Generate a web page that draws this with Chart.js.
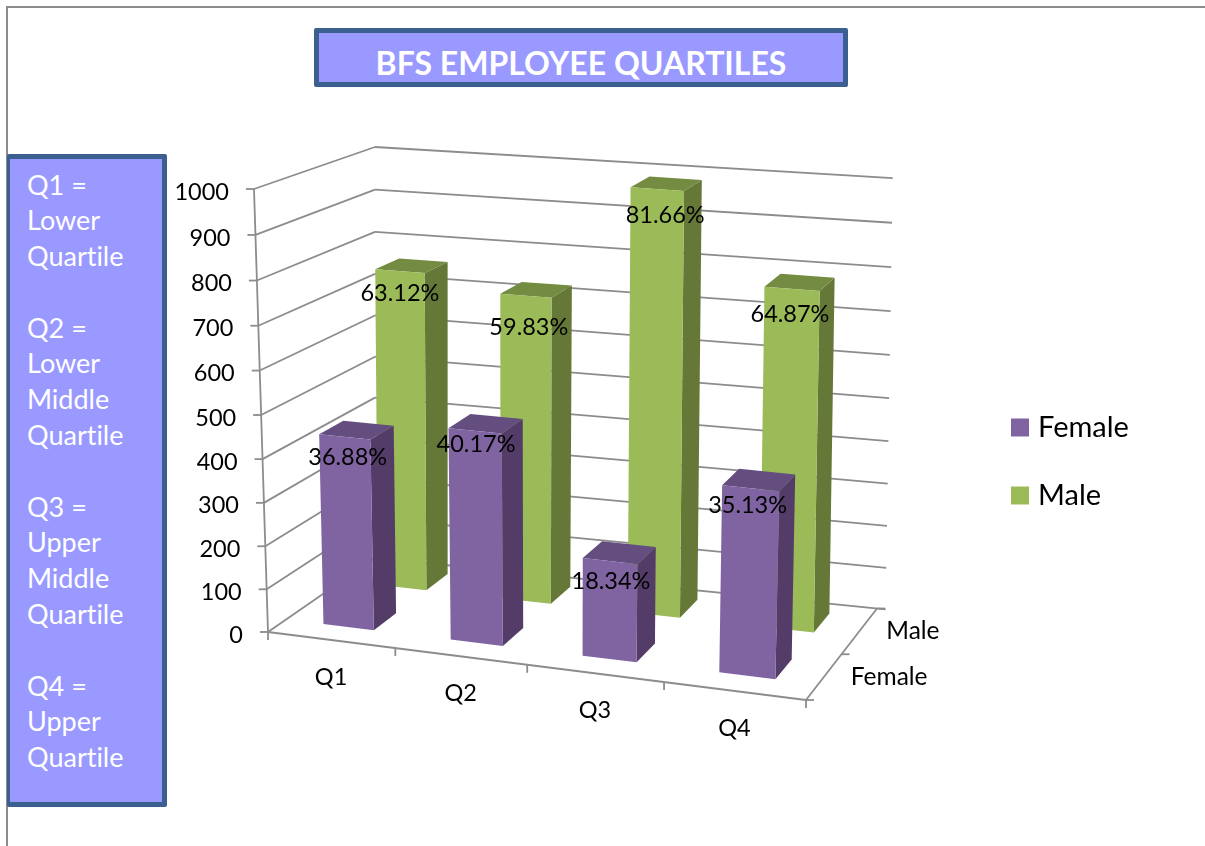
<!DOCTYPE html>
<html>
<head>
<meta charset="utf-8">
<title>BFS Employee Quartiles</title>
<script src="https://cdn.jsdelivr.net/npm/chart.js@4/dist/chart.umd.js"></script>
<style>
html, body { margin: 0; padding: 0; background: #fff; overflow: hidden; }
#page { position: relative; width: 1205px; height: 846px; font-family: Lato, sans-serif; font-variant-ligatures: none; }
#chart { position: absolute; left: 0; top: 0; }
#frameTop { position: absolute; left: 6px; top: 6px; width: 1199px; height: 1.5px; background: #8c8c8c; }
#frameLeft { position: absolute; left: 6px; top: 6px; width: 1.5px; height: 840px; background: #8c8c8c; }
.box { position: absolute; box-sizing: border-box; background: #9999ff; border: 5px solid #3b5f8e; border-radius: 2px; color: #fff; }
#title { left: 314px; top: 28px; width: 534px; height: 59px; font-weight: 700; font-size: 32px; line-height: 60px; text-align: center; }
#key { left: 7px; top: 154px; width: 160px; height: 653px; border-left-width: 3px; font-size: 27px; line-height: 35.8px; padding: 7.5px 0 0 17px; white-space: pre; }
</style>
</head>
<body>
<div id="page">
  <canvas id="chart" width="1205" height="846"></canvas>
  <div id="frameTop"></div>
  <div id="frameLeft"></div>
  <div class="box" id="title">BFS EMPLOYEE QUARTILES</div>
  <div class="box" id="key"></div>
</div>
<script>
var categories = ['Q1', 'Q2', 'Q3', 'Q4'];
var seriesNames = ['Female', 'Male'];
var femaleValues = [442, 486, 224, 421];
var maleValues = [755, 721, 983, 783];
var femalePercent = ['36.88%', '40.17%', '18.34%', '35.13%'];
var malePercent = ['63.12%', '59.83%', '81.66%', '64.87%'];
var keyLines = ['Q1 =', 'Lower', 'Quartile', '', 'Q2 =', 'Lower', 'Middle', 'Quartile', '', 'Q3 =', 'Upper', 'Middle', 'Quartile', '', 'Q4 =', 'Upper', 'Quartile'];

document.getElementById('key').textContent = keyLines.join('\n');

// corners of the 3d box on the page: front/back, left/right, bottom/top
var box = {
    flb: [268, 632], frb: [806, 700], blb: [375, 558], brb: [877, 608.5],
    flt: [254, 189], frt: [818, 235], blt: [375, 147], brt: [884, 177.5]
};
var lineGrey = '#8c8c8c';
var heightPerspective = 0.96;
var widthPerspective = 0.93;
// where each row of bars starts and ends in the depth of the box
var rowDepth = [[0.17, 0.39], [0.69, 0.9]];
// the percent labels were placed by hand in the original, shift from the bar top
var femaleNudge = [[3, 20], [1, 14], [1, 20], [-3, 17]];
var maleNudge = [[0, 22], [3, 32], [8, 26], [-2, 26]];

function warp(t, k) {
    return t * k / (1 + (k - 1) * t);
}

// value axis gets slightly wider towards the top, like the picture
class PerspectiveScale extends Chart.LinearScale {
    getPixelForValue(value) {
        var d = (value - this.min) / (this.max - this.min);
        return this.getPixelForDecimal(warp(d, heightPerspective));
    }
}
PerspectiveScale.id = 'perspective';
PerspectiveScale.defaults = Chart.LinearScale.defaults;
Chart.register(PerspectiveScale);

function mix(a, b, t) {
    return [a[0] + (b[0] - a[0]) * t, a[1] + (b[1] - a[1]) * t];
}

// u along categories, v into the depth, d up the value axis (all 0..1)
function project(u, v, d) {
    var w = warp(u, widthPerspective);
    var bottom = mix(mix(box.flb, box.frb, w), mix(box.blb, box.brb, w), v);
    var top = mix(mix(box.flt, box.frt, w), mix(box.blt, box.brt, w), v);
    return mix(bottom, top, d);
}

function polygon(ctx, points, color) {
    ctx.beginPath();
    points.forEach(function (p, i) {
        if (i === 0) ctx.moveTo(p[0], p[1]);
        else ctx.lineTo(p[0], p[1]);
    });
    ctx.closePath();
    ctx.fillStyle = color;
    ctx.fill();
}

function line(ctx, a, b) {
    ctx.beginPath();
    ctx.moveTo(a[0], a[1]);
    ctx.lineTo(b[0], b[1]);
    ctx.stroke();
}

var box3d = {
    id: 'box3d',
    afterLayout: function (chart) {
        // legend sits lower than the plot centre
        var legend = chart.legend;
        var w = legend.width, h = legend.height;
        legend.left = 977.5;
        legend.right = legend.left + w;
        legend.top += 51;
        legend.bottom = legend.top + h;
    },
    beforeDatasetsDraw: function (chart) {
        var ctx = chart.ctx;
        var area = chart.chartArea;
        var yScale = chart.scales.y;
        var dOf = function (px) { return (area.bottom - px) / (area.bottom - area.top); };
        ctx.save();

        // walls
        ctx.strokeStyle = lineGrey;
        ctx.lineWidth = 1.8;
        yScale.ticks.forEach(function (tick) {
            var d = dOf(yScale.getPixelForValue(tick.value));
            var corner = project(0, 0, d);
            line(ctx, corner, project(0, 1, d));
            line(ctx, project(0, 1, d), project(1.016, 1, d));
            line(ctx, [corner[0] - 8, corner[1]], corner);
        });
        line(ctx, project(0, 0, 0), project(0, 0, 1));
        line(ctx, project(0, 0, 0), project(1, 0, 0));
        line(ctx, project(1, 0, 0), project(1, 1, 0));
        for (var t = 0; t <= categories.length; t++) {
            var p = project(t / categories.length, 0, 0);
            line(ctx, p, [p[0], p[1] + 8]);
        }
        for (var s = 0; s <= seriesNames.length; s++) {
            var q = project(1, s / seriesNames.length, 0);
            line(ctx, q, [q[0] + 8, q[1]]);
        }

        // bars, back row first
        var labels = [];
        for (var i = chart.data.datasets.length - 1; i >= 0; i--) {
            var ds = chart.data.datasets[i];
            var v0 = rowDepth[i][0];
            var v1 = rowDepth[i][1];
            chart.getDatasetMeta(i).data.forEach(function (bar, j) {
                var u0 = (bar.x - bar.width / 2 - area.left) / area.width;
                var u1 = (bar.x + bar.width / 2 - area.left) / area.width;
                var d = dOf(bar.y);
                polygon(ctx, [project(u1, v0, 0), project(u1, v1, 0), project(u1, v1, d), project(u1, v0, d)], ds.sideColor);
                polygon(ctx, [project(u0, v0, d), project(u1, v0, d), project(u1, v1, d), project(u0, v1, d)], ds.topColor);
                polygon(ctx, [project(u0, v0, 0), project(u1, v0, 0), project(u1, v0, d), project(u0, v0, d)], ds.backgroundColor);
                labels.push({ text: ds.percent[j], at: project((u0 + u1) / 2, v0, d), nudge: ds.nudge[j] });
            });
        }

        // texts
        ctx.fillStyle = '#000';
        ctx.font = '23.5px Lato';
        ctx.textBaseline = 'middle';
        ctx.textAlign = 'center';
        labels.forEach(function (l) {
            ctx.fillText(l.text, l.at[0] + l.nudge[0], l.at[1] + l.nudge[1]);
        });
        categories.forEach(function (c, j) {
            var u = (chart.scales.x.getPixelForValue(j) - area.left) / area.width;
            var p = project(u, 0, 0);
            ctx.fillText(c, p[0], p[1] + 37);
        });
        ctx.textAlign = 'right';
        yScale.ticks.forEach(function (tick) {
            var p = project(0, 0, dOf(yScale.getPixelForValue(tick.value)));
            ctx.fillText(tick.label, p[0] - 25, p[1] + 3);
        });
        ctx.textAlign = 'left';
        ctx.font = '24.5px Lato';
        seriesNames.forEach(function (n, j) {
            var p = project(1, (j + 0.5) / seriesNames.length, 0);
            ctx.fillText(n, p[0] + 27, p[1]);
        });
        ctx.restore();
        return false; // native flat bars are replaced by the ones above
    }
};

var chart = new Chart(document.getElementById('chart').getContext('2d'), {
    type: 'bar',
    data: {
        labels: categories,
        datasets: [{
            label: seriesNames[0],
            data: femaleValues,
            percent: femalePercent,
            nudge: femaleNudge,
            backgroundColor: '#8064a2',
            topColor: '#644e80',
            sideColor: '#533d68'
        }, {
            label: seriesNames[1],
            data: maleValues,
            percent: malePercent,
            nudge: maleNudge,
            backgroundColor: '#9bbb59',
            topColor: '#738c41',
            sideColor: '#657838'
        }]
    },
    options: {
        responsive: false,
        animation: false,
        events: [],
        layout: { padding: { left: 268, top: 189, bottom: 214, right: 0 } },
        datasets: { bar: { grouped: false, categoryPercentage: 1, barPercentage: 0.4 } },
        scales: {
            x: { display: false },
            y: {
                type: 'perspective',
                display: false,
                min: 0,
                max: 1000,
                ticks: { stepSize: 100, callback: function (v) { return String(v); } }
            }
        },
        plugins: {
            tooltip: { enabled: false },
            legend: {
                position: 'right',
                labels: {
                    font: { family: 'Lato', size: 29 },
                    color: '#000',
                    padding: 39,
                    boxWidth: 7,
                    boxHeight: 7,
                    generateLabels: function (c) {
                        return Chart.defaults.plugins.legend.labels.generateLabels(c).map(function (l) {
                            l.lineWidth = 11;
                            l.strokeStyle = l.fillStyle;
                            return l;
                        });
                    }
                }
            }
        }
    },
    plugins: [box3d]
});
</script>
</body>
</html>
